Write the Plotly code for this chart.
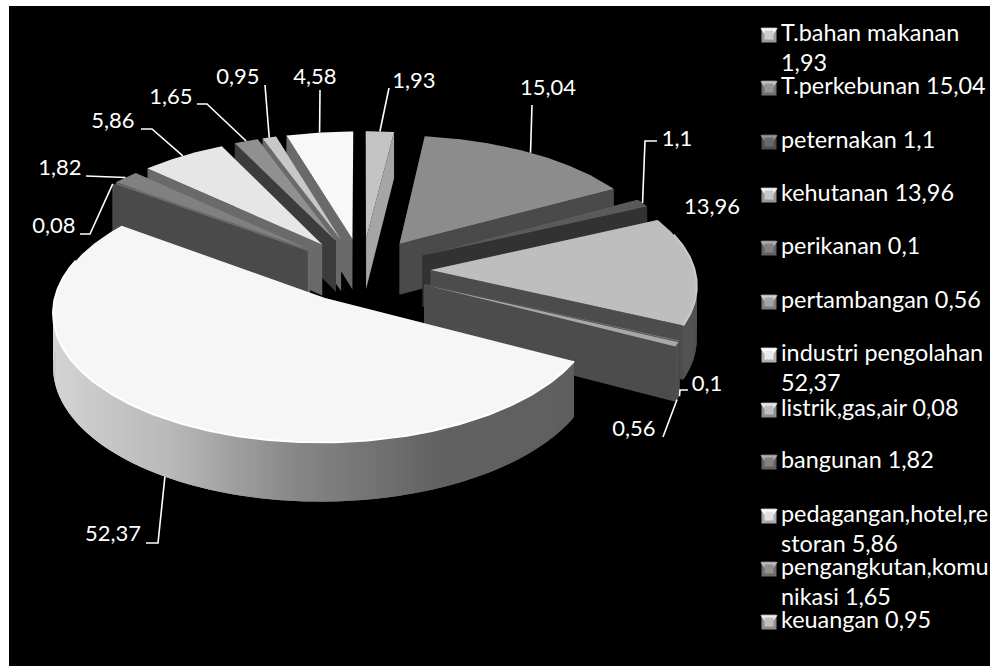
import math
import numpy as np
import plotly.graph_objects as go

# --- data -------------------------------------------------------------
categories = ["T.bahan makanan", "T.perkebunan", "peternakan", "kehutanan", "perikanan",
              "pertambangan", "industri pengolahan", "listrik,gas,air", "bangunan",
              "pedagangan,hotel,restoran", "pengangkutan,komunikasi", "keuangan", "jasa"]
values = [1.93, 15.04, 1.1, 13.96, 0.1, 0.56, 52.37, 0.08, 1.82, 5.86, 1.65, 0.95, 4.58]
value_labels = ["1,93", "15,04", "1,1", "13,96", "0,1", "0,56", "52,37", "0,08", "1,82",
                "5,86", "1,65", "0,95", "4,58"]
top_grays = [196, 140, 90, 190, 128, 168, 246, 240, 128, 230, 144, 200, 248]
wall_grays = [165, 74, 50, 76, 76, 76, 110, 74, 106, 106, 60, 106, 106]
legend_grays = [205, 150, 105, 200, 130, 165, 235, 190, 130, 225, 145, 190]

legend_lines = [["T.bahan makanan", "1,93"], ["T.perkebunan 15,04"], ["peternakan 1,1"],
                ["kehutanan 13,96"], ["perikanan 0,1"], ["pertambangan 0,56"],
                ["industri pengolahan", "52,37"], ["listrik,gas,air 0,08"], ["bangunan 1,82"],
                ["pedagangan,hotel,re", "storan 5,86"], ["pengangkutan,komu", "nikasi 1,65"],
                ["keuangan 0,95"]]
legend_y = [35, 88, 142, 195, 248, 302, 355, 410, 462, 516, 569, 622]

# label centre, optional leader start/elbow pixels, wall fraction of the anchor
label_xy = [(414, 82), (548, 89), (677, 140), (712, 208), (707, 385), (634, 430), (113, 535),
            (54, 227), (60, 169), (113, 122), (171, 98), (238, 78), (315, 78)]
leader_pts = [[(389, 88)], [(532, 105)], [(657, 141), (645, 141)], [], [(688, 390), (680, 390)],
              [(663, 437)], [(146, 543), (158, 543)], [(80, 234), (90, 234)], [(86, 176)],
              [(141, 129), (152, 129)], [(197, 104), (207, 104)], [(265, 85)], [(320, 90)]]
anchor_wall = [0, 0, 0, 0, 1, 1, 1, 0, 0, 0, 0, 0, 0]

# --- projection -------------------------------------------------------
CX, CY, RX, RY, P, H, E = 362, 270, 264, 124, 0.10, 52, 0.26
FONT = "Lato"


def proj(u, v, z=0.0):
    s = 1 / (1 + P * v)
    return CX + RX * u * s, CY - RY * v * s + H * s * z


def gray(g):
    g = max(0, min(255, int(round(g))))
    return f"rgb({g},{g},{g})"


fig = go.Figure()


def poly(pts, col):
    fig.add_trace(go.Scatter(x=[p[0] for p in pts] + [pts[0][0]], y=[p[1] for p in pts] + [pts[0][1]],
                             mode="lines", fill="toself", fillcolor=col,
                             line=dict(color=col, width=0), hoverinfo="skip", showlegend=False))


total = sum(values)
slices = []
cum = 0.0
for i, val in enumerate(values):
    a0 = cum / total * 2 * math.pi
    cum += val
    a1 = cum / total * 2 * math.pi
    slices.append((i, a0, a1))


def centre_v(sl):
    m = (sl[1] + sl[2]) / 2
    return E * math.cos(m) + 0.6 * math.cos(m)


anchors = {}
for i, a0, a1 in sorted(slices, key=centre_v, reverse=True):
    m = (a0 + a1) / 2
    ou, ov = E * math.sin(m), E * math.cos(m)
    n = max(2, int((a1 - a0) / 0.015))
    ang = [a0 + (a1 - a0) * k / n for k in range(n + 1)]
    rim = [(ou + math.sin(t), ov + math.cos(t)) for t in ang]
    apex = (ou, ov)
    # radial walls
    for edge in (rim[-1], rim[0]):
        poly([proj(*apex), proj(*edge), proj(*edge, 1), proj(*apex, 1)], gray(wall_grays[i]))
    # outer wall: overlapping strips, shaded from the left-hand light
    for k in range(n):
        t = (ang[k] + ang[k + 1]) / 2
        if math.cos(t) > 0.25:
            continue
        base = float(np.interp(math.sin(t), [-1, -0.5, -0.08, 0.4, 1], [215, 185, 135, 98, 95]))
        shade = base * (0.45 + 0.55 * top_grays[i] / 248)
        j = min(k + 2, n)
        poly([proj(*rim[k]), proj(*rim[j]), proj(*rim[j], 1), proj(*rim[k], 1)], gray(shade))
    # top face
    poly([proj(*apex)] + [proj(*q) for q in rim], gray(top_grays[i]))
    # bright bevel on the front of the rim
    front = [proj(*q) for q, t in zip(rim, ang) if math.cos(t) < 0.3]
    if len(front) > 4:
        fig.add_trace(go.Scatter(x=[p[0] for p in front], y=[p[1] for p in front], mode="lines",
                                 line=dict(color=gray(top_grays[i] + 12), width=2),
                                 hoverinfo="skip", showlegend=False))
    anchors[i] = proj(ou + math.sin(m), ov + math.cos(m), anchor_wall[i])

# leaders and value labels
for i in range(len(values)):
    if leader_pts[i]:
        pts = leader_pts[i] + [anchors[i]]
        fig.add_trace(go.Scatter(x=[p[0] for p in pts], y=[p[1] for p in pts], mode="lines",
                                 line=dict(color="white", width=1.6), hoverinfo="skip", showlegend=False))
fig.add_trace(go.Scatter(x=[p[0] for p in label_xy], y=[p[1] for p in label_xy], mode="text",
                         text=value_labels, textposition="middle center",
                         textfont=dict(family=FONT, size=22, color="white"),
                         hoverinfo="skip", showlegend=False))

# legend
LX, TX = 769, 781
for i, lines in enumerate(legend_lines):
    y = legend_y[i]
    g = legend_grays[i]
    fig.add_trace(go.Scatter(x=[LX], y=[y], mode="markers", hoverinfo="skip", showlegend=False,
                             marker=dict(symbol="square", size=15, color=gray(g * 0.75), line=dict(width=0))))
    fig.add_trace(go.Scatter(x=[LX], y=[y - 3], mode="markers", hoverinfo="skip", showlegend=False,
                             marker=dict(symbol="triangle-down", size=15, color=gray(min(255, g + 45)), line=dict(width=0))))
    fig.add_trace(go.Scatter(x=[LX], y=[y], mode="markers", hoverinfo="skip", showlegend=False,
                             marker=dict(symbol="square", size=9, color=gray(g), line=dict(width=0))))
    fig.add_trace(go.Scatter(x=[TX] * len(lines), y=[y + 30 * k for k in range(len(lines))], mode="text",
                             text=lines, textposition="middle right", cliponaxis=False,
                             textfont=dict(family=FONT, size=23.4, color="white"),
                             hoverinfo="skip", showlegend=False))

fig.update_layout(width=990, height=666, margin=dict(l=0, r=0, t=0, b=0), autosize=False,
                  paper_bgcolor="white", plot_bgcolor="black", showlegend=False,
                  xaxis=dict(range=[9, 990], visible=False, fixedrange=True, domain=[9 / 990, 1]),
                  yaxis=dict(range=[666, 6], visible=False, fixedrange=True, domain=[0, 660 / 666]))
fig.write_html("out.html", config={"displayModeBar": False},
               post_script="document.body.style.margin='0';document.body.style.overflow='hidden';")
